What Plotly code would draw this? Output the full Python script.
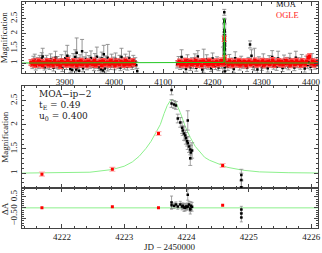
import plotly.graph_objects as go

# ---------------- top panel: full season light curve ----------------
moa_t1 = [3832,3834,3836,3838,3839,3841,3843,3845,3847,3849,3851,3853,3855,3857,3859,3861,3863,3865,3867,3869,
          3871,3873,3875,3877,3879,3881,3883,3885,3887,3889,3891,3893,3895,3897,3899,3901,3903,3905,3907,3909,
          3911,3913,3915,3917,3919,3921,3923,3924,3925,3927,3929,3931,3933,3935,3937,3939,3941,3943,3945,3947,
          3949,3951,3953,3955,3957,3959,3961,3963,3965,3967,3969,3971,3973,3975,3977,3979,3981,3983,3985,3987,
          3989,3991,3993,3995,3997,3999,4001,4003,4005,4007,4009,4011,4013,4015,4017,4019,4021,4023,4025,4027,
          4029,4031,4033,4035,4037,4039,4041,4043,4045,4047]
moa_a1 = [1.02,0.93,1.08,0.97,1.12,0.88,1.00,1.05,0.92,1.10,
          0.97,1.15,1.22,0.95,0.86,1.04,1.09,0.93,1.01,0.90,
          1.13,0.98,1.06,0.84,1.02,1.18,0.94,1.07,0.89,1.03,
          0.96,1.11,0.83,1.04,0.99,1.16,0.91,1.25,0.97,1.08,
          0.80,1.02,0.76,1.12,0.94,1.20,0.78,1.35,0.85,1.05,
          0.74,1.10,0.95,1.40,0.82,1.06,0.98,1.14,0.88,1.01,
          1.09,0.92,1.17,0.96,1.04,0.87,1.12,0.93,1.21,0.99,
          0.86,1.05,0.79,1.15,0.75,1.30,0.81,1.08,0.92,1.18,
          0.97,1.03,0.90,1.11,0.95,1.06,0.88,1.14,0.99,1.02,
          0.93,1.09,0.85,1.20,0.96,1.04,0.91,1.12,1.00,0.87,
          1.07,1.15,0.94,1.03,0.89,1.10,0.97,1.05,0.92,0.72]
moa_e1 = [0.10,0.12,0.15,0.10,0.18,0.12,0.09,0.14,0.11,0.16,
          0.10,0.20,0.28,0.12,0.10,0.13,0.17,0.11,0.09,0.12,
          0.18,0.10,0.14,0.11,0.09,0.22,0.12,0.15,0.10,0.11,
          0.09,0.17,0.12,0.10,0.11,0.24,0.13,0.35,0.10,0.16,
          0.12,0.09,0.14,0.20,0.11,0.25,0.13,0.50,0.12,0.14,
          0.13,0.18,0.10,0.40,0.12,0.15,0.10,0.22,0.11,0.09,
          0.16,0.10,0.24,0.12,0.10,0.13,0.20,0.11,0.33,0.10,
          0.12,0.15,0.13,0.22,0.12,0.30,0.14,0.16,0.10,0.45,
          0.11,0.10,0.12,0.19,0.10,0.14,0.11,0.20,0.10,0.09,
          0.12,0.17,0.11,0.30,0.10,0.13,0.12,0.18,0.10,0.11,
          0.14,0.25,0.10,0.12,0.11,0.16,0.10,0.13,0.12,0.10]

moa_t2 = [4128,4131,4134,4137,4140,4143,4146,4149,4152,4155,4158,4161,4164,4167,4170,4173,4176,4179,4182,4185,
          4188,4191,4194,4197,4200,4203,4206,4209,4212,4215,4218,4221,
          4228,4231,4234,4237,4240,4243,4246,4249,4252,4255,4258,4261,4264,4267,4270,4273,4276,4279,
          4282,4285,4288,4291,4294,4297,4300,4303,4306,4309,4312,4315,4318,4321,4324,4327,4330,4333,
          4336,4339,4342,4345,4348,4351,4354,4357,4360,4363,4366,4369,4372,4375,4378,4381,4384,4387,
          4390,4393,4396,4399,4402,4405,4408,4411]
moa_a2 = [0.95,1.08,0.88,1.20,0.92,1.03,0.80,1.10,0.97,0.86,
          1.05,0.91,1.14,0.84,1.22,0.96,1.02,0.78,1.07,0.93,
          1.12,0.89,1.04,0.82,1.15,0.97,0.90,1.06,0.85,1.01,
          0.94,1.09,
          0.98,0.87,1.11,0.93,1.04,0.80,1.16,0.95,1.02,0.88,
          1.08,0.92,0.97,0.96,0.84,1.05,1.63,1.25,0.89,1.12,
          0.94,0.78,1.07,0.99,0.86,1.13,0.93,1.03,0.82,1.09,
          0.96,1.20,0.90,1.04,0.87,1.15,0.95,1.01,0.83,1.10,
          0.92,1.06,0.88,1.14,0.97,1.02,0.85,1.18,0.94,1.05,
          0.90,1.11,0.96,0.81,1.08,0.93,1.03,0.87,1.12,0.98,0.91,1.04]
moa_e2 = [0.12,0.14,0.10,0.25,0.11,0.13,0.12,0.18,0.10,0.11,
          0.13,0.10,0.17,0.12,0.20,0.10,0.11,0.13,0.40,0.12,
          0.16,0.10,0.12,0.11,0.19,0.10,0.12,0.15,0.11,0.10,
          0.12,0.45,
          0.11,0.12,0.18,0.10,0.13,0.12,0.22,0.10,0.11,0.12,
          0.15,0.10,0.11,0.12,0.13,0.14,0.12,0.20,0.11,0.38,
          0.10,0.12,0.14,0.10,0.11,0.18,0.10,0.12,0.13,0.16,
          0.10,0.22,0.11,0.13,0.12,0.25,0.10,0.11,0.12,0.17,
          0.10,0.13,0.11,0.19,0.10,0.12,0.11,0.22,0.10,0.13,
          0.11,0.18,0.10,0.12,0.15,0.11,0.12,0.10,0.20,0.11,0.12,0.14]

ogle_t1 = [3831,3834,3837,3840,3843,3846,3849,3852,3855,3858,3861,3864,3867,3870,3873,3876,3879,3882,3885,3888,
           3891,3894,3897,3900,3903,3906,3909,3912,3915,3918,3921,3924,3927,3930,3933,3936,3939,3942,3945,3948,
           3951,3954,3957,3960,3963,3966,3969,3972,3975,3978,3981,3984,3987,3990,3993,3996,3999,4002,4005,4008,
           4011,4014,4017,4020,4023,4026,4029,4032,4035,4038,4041]
ogle_a1 = [1.02,0.97,1.05,0.94,1.00,1.07,0.96,1.03,0.92,1.01,
           0.98,1.06,0.95,1.04,0.99,0.93,1.08,1.00,0.96,1.03,
           0.91,1.05,0.98,1.02,0.95,1.09,0.97,1.01,0.94,1.06,
           0.99,0.92,1.04,0.97,1.07,0.95,1.00,1.03,0.93,1.05,
           0.98,1.02,0.96,1.08,0.94,1.01,0.99,1.04,0.92,1.06,
           0.97,1.00,1.03,0.95,1.07,0.98,1.02,0.93,1.05,0.99,
           0.96,1.04,1.01,0.94,1.08,0.97,1.03,0.95,1.00,1.06,0.98]
ogle_t2 = [4130,4133,4136,4139,4142,4145,4148,4151,4154,4157,4160,4163,4166,4169,4172,4175,4178,4181,4184,4187,
           4190,4193,4196,4199,4202,4205,4208,4211,4214,4217,4220,
           4229,4232,4235,4238,4241,4244,4247,4250,4253,4256,4259,4262,4265,4268,4271,4274,4277,4280,4283,4286,
           4289,4292,4295,4298,4301,4304,4307,4310,4313,4316,4319,4322,4325,4328,4331,4334,4337,4340,4343,4346,
           4349,4352,4355,4358,4361,4364,4367,4370,4373,4376,4379,4382,4385,4388,4391,4394,4397,4400,4403,4406,
           4409,4412]
ogle_a2 = [0.99,1.04,0.95,1.02,0.97,1.07,0.93,1.01,1.05,0.96,
           1.03,0.98,1.08,0.94,1.00,1.04,0.92,1.06,0.99,1.02,
           0.95,1.07,0.97,1.03,0.94,1.01,1.05,0.96,1.00,1.08,0.98,
           1.02,0.95,1.06,0.99,0.93,1.04,1.00,0.97,1.07,0.94,
           1.03,0.98,1.05,0.92,1.01,1.06,0.96,1.02,0.99,1.08,
           0.95,1.04,0.97,1.00,1.07,0.93,1.03,0.98,1.05,0.96,
           1.01,1.09,0.94,1.02,0.99,1.06,0.97,1.04,0.95,1.00,
           1.08,0.98,1.03,0.93,1.05,1.01,0.96,1.07,0.99,1.02,
           0.94,1.06,1.00,0.97,1.04,1.18,1.22,0.98,1.05,0.95,
           1.03,0.99]
ogle_err_base = 0.09

# ---------------- event (zoomed panels) ----------------
evt_moa_t = [4223.76,4223.76,4223.80,4223.83,4223.86,4223.90,4223.93,4223.94,4223.96,4223.98,4223.99,
             4224.01,4224.02,4224.02,4224.04,4224.06,4224.06,4224.07,4224.09,4224.88,4224.88,4224.88]
evt_moa_a = [2.72,2.44,2.42,2.40,2.13,2.05,1.94,1.88,1.82,1.78,1.72,
             1.66,1.62,2.09,1.55,1.49,1.31,1.43,1.47,0.96,0.86,0.71]
evt_moa_e = [0.10,0.08,0.08,0.08,0.09,0.10,0.12,0.10,0.14,0.11,0.12,
             0.10,0.13,0.20,0.12,0.11,0.15,0.14,0.16,0.12,0.14,0.15]
evt_moa_res = [0.24,0.12,0.10,0.15,0.06,0.15,0.06,0.10,0.02,0.0,0.06,
               0.04,0.06,0.60,0.15,-0.03,-0.08,0.10,0.05,-0.08,-0.26,-0.44]
evt_moa_rese = [0.30,0.15,0.12,0.12,0.12,0.15,0.15,0.12,0.18,0.14,0.15,
                0.12,0.16,0.25,0.15,0.14,0.20,0.18,0.20,0.15,0.18,0.20]

evt_ogle_t = [4221.68,4222.81,4223.55,4224.58]
evt_ogle_a = [0.98,1.08,1.82,1.16]
evt_ogle_e = [0.04,0.04,0.04,0.04]
evt_ogle_res = [0.0,0.05,0.0,0.12]

# best-fit model
model_t = [4221.36,4221.97,4222.45,4222.81,4223.00,4223.13,4223.24,4223.35,4223.43,4223.51,4223.58,
           4223.64,4223.69,4223.74,4223.78,4223.83,4223.90,4223.98,4224.06,4224.14,4224.22,4224.29,
           4224.37,4224.52,4224.65,4224.90,4225.17,4225.63,4226.11]
model_a = [1.002,1.005,1.02,1.076,1.144,1.232,1.349,1.513,1.657,1.842,2.006,
           2.232,2.396,2.499,2.52,2.458,2.253,1.965,1.739,1.554,1.431,1.329,
           1.267,1.185,1.123,1.062,1.027,1.01,1.004]
season_edges = [3813, 4414]
resid_zero = [0.0, 0.0]

x_ticks_top = [3900, 4000, 4100, 4200, 4300, 4400]
y_ticks_mag = [1, 1.5, 2, 2.5]
x_ticks_evt = [4222, 4223, 4224, 4225, 4226]
y_ticks_res = [-0.5, 0, 0.5]
y_ticks_res_text = ['\u22120.5', '0', '0.5']

# ---------------- figure ----------------
SERIF = 'Liberation Serif'
FRAME = '#444444'
GREEN_TOP = '#22c822'
GREEN_LT = '#8cf08c'
MOA_ERR = '#8a8a8a'
OGLE_ERR = '#ff5050'
OGLE_ERR_LT = '#ffb0b0'

def eb(arr, color, width=1.5, th=0.8):
    return dict(type='data', array=arr, color=color, thickness=th, width=width, visible=True)

fig = go.Figure()

top_moa_t = moa_t1 + moa_t2 + evt_moa_t
top_moa_a = moa_a1 + moa_a2 + evt_moa_a
top_moa_e = moa_e1 + moa_e2 + evt_moa_e
fig.add_trace(go.Scatter(x=top_moa_t, y=top_moa_a, mode='markers',
                         marker=dict(symbol='square', size=2.5, color='black'),
                         error_y=eb(top_moa_e, MOA_ERR, 2, 0.9), xaxis='x', yaxis='y', showlegend=False))
top_ogle_t = ogle_t1 + ogle_t2 + evt_ogle_t
top_ogle_a = ogle_a1 + ogle_a2 + evt_ogle_a
fig.add_trace(go.Scatter(x=top_ogle_t, y=top_ogle_a, mode='markers',
                         marker=dict(symbol='square', size=3.5, color='#ff0000'),
                         error_y=dict(type='constant', value=ogle_err_base, color=OGLE_ERR, thickness=1.2, width=2.5),
                         xaxis='x', yaxis='y', showlegend=False))
fig.add_trace(go.Scatter(x=[season_edges[0]] + model_t + [season_edges[1]],
                         y=[1.0] + model_a + [1.0], mode='lines',
                         line=dict(color=GREEN_TOP, width=1), xaxis='x', yaxis='y', showlegend=False))

# middle panel
fig.add_trace(go.Scatter(x=model_t, y=model_a, mode='lines', line=dict(color=GREEN_LT, width=1),
                         xaxis='x3', yaxis='y2', showlegend=False))
fig.add_trace(go.Scatter(x=evt_moa_t, y=evt_moa_a, mode='markers',
                         marker=dict(symbol='square', size=2.5, color='black'),
                         error_y=eb(evt_moa_e, MOA_ERR, 2), xaxis='x3', yaxis='y2', showlegend=False))
fig.add_trace(go.Scatter(x=evt_ogle_t, y=evt_ogle_a, mode='markers',
                         marker=dict(symbol='square', size=3, color='#ff0000'),
                         error_y=eb(evt_ogle_e, OGLE_ERR_LT, 3, 1.2), xaxis='x3', yaxis='y2', showlegend=False))

# bottom panel (residuals)
fig.add_trace(go.Scatter(x=model_t[:1] + model_t[-1:], y=resid_zero, mode='lines',
                         line=dict(color=GREEN_LT, width=1), xaxis='x2', yaxis='y3', showlegend=False))
fig.add_trace(go.Scatter(x=evt_moa_t, y=evt_moa_res, mode='markers',
                         marker=dict(symbol='square', size=2.5, color='black'),
                         error_y=eb(evt_moa_rese, MOA_ERR, 1.5), xaxis='x2', yaxis='y3', showlegend=False))
fig.add_trace(go.Scatter(x=evt_ogle_t, y=evt_ogle_res, mode='markers',
                         marker=dict(symbol='square', size=3, color='#ff0000'),
                         xaxis='x2', yaxis='y3', showlegend=False))

tickfont = dict(family=SERIF, size=9, color='#222222')
common = dict(showline=True, linecolor=FRAME, linewidth=1, mirror='ticks', ticks='inside',
              ticklen=4, tickcolor=FRAME, tickwidth=1, showgrid=False, zeroline=False, tickfont=tickfont)

fig.update_layout(
    width=322, height=253,
    margin=dict(l=22, r=2, t=1, b=25),
    paper_bgcolor='white', plot_bgcolor='white',
    xaxis=dict(common, domain=[0, 1], anchor='y', range=[3813, 4414], tickvals=x_ticks_top,
               ticklabeloverflow='allow',
               minor=dict(ticks='inside', ticklen=2, dtick=20, tick0=3800, tickcolor=FRAME)),
    yaxis=dict(common, domain=[0.687, 1], anchor='x', range=[0.67, 3.07], tickvals=y_ticks_mag,
               tickangle=-90, minor=dict(ticks='inside', ticklen=2, dtick=0.1, tick0=0, tickcolor=FRAME)),
    xaxis2=dict(common, domain=[0, 1], anchor='y3', range=[4221.36, 4226.11], tickvals=x_ticks_evt,
                ticklabeloverflow='allow',
                tickformat='d', minor=dict(ticks='inside', ticklen=2, dtick=0.2, tick0=4221, tickcolor=FRAME)),
    xaxis3=dict(common, domain=[0, 1], anchor='y2', matches='x2', tickvals=x_ticks_evt, showticklabels=False,
                minor=dict(ticks='inside', ticklen=2, dtick=0.2, tick0=4221, tickcolor=FRAME)),
    yaxis2=dict(common, domain=[0.1762, 0.63], anchor='x3', range=[0.69, 2.81], tickvals=y_ticks_mag,
                tickangle=-90, minor=dict(ticks='inside', ticklen=2, dtick=0.1, tick0=0, tickcolor=FRAME)),
    yaxis3=dict(common, domain=[0, 0.1762], anchor='x2', range=[-0.92, 0.9], tickvals=y_ticks_res,
                ticktext=y_ticks_res_text, tickangle=-90,
                minor=dict(ticks='inside', ticklen=2, dtick=0.1, tick0=0, tickcolor=FRAME)),
)

afont = dict(family=SERIF, size=9, color='#222222')
ann = [
    dict(text='Magnification', x=-0.058, y=0.843, textangle=-90),
    dict(text='Magnification', x=-0.058, y=0.403, textangle=-90),
    dict(text='\u0394A', x=-0.058, y=0.088, textangle=-90),
    dict(text='JD \u2212 2450000', x=0.5, y=-0.085),
]
for a in ann:
    fig.add_annotation(xref='paper', yref='paper', showarrow=False, font=afont,
                       xanchor='center', yanchor='middle', **a)

lfont = dict(family='DejaVu Serif', size=9, color='#222222')
for txt, yy in [('MOA\u2212ip\u22122', 0.595), ('t<sub>E</sub> = 0.49', 0.543), ('u<sub>0</sub> = 0.400', 0.494)]:
    fig.add_annotation(xref='paper', yref='paper', x=0.050, y=yy, text=txt, showarrow=False,
                       font=lfont, xanchor='left', yanchor='middle')

fig.add_annotation(xref='paper', yref='paper', x=0.853, y=0.990, text='MOA', showarrow=False,
                   font=dict(family=SERIF, size=8.5, color='#222222'), xanchor='left', yanchor='middle')
fig.add_annotation(xref='paper', yref='paper', x=0.853, y=0.942, text='OGLE', showarrow=False,
                   font=dict(family=SERIF, size=8.5, color='#ff2020'), xanchor='left', yanchor='middle')

fig.write_html('out.html', config={'displayModeBar': False},
               post_script="document.body.style.margin='0';document.body.style.overflow='hidden';")
